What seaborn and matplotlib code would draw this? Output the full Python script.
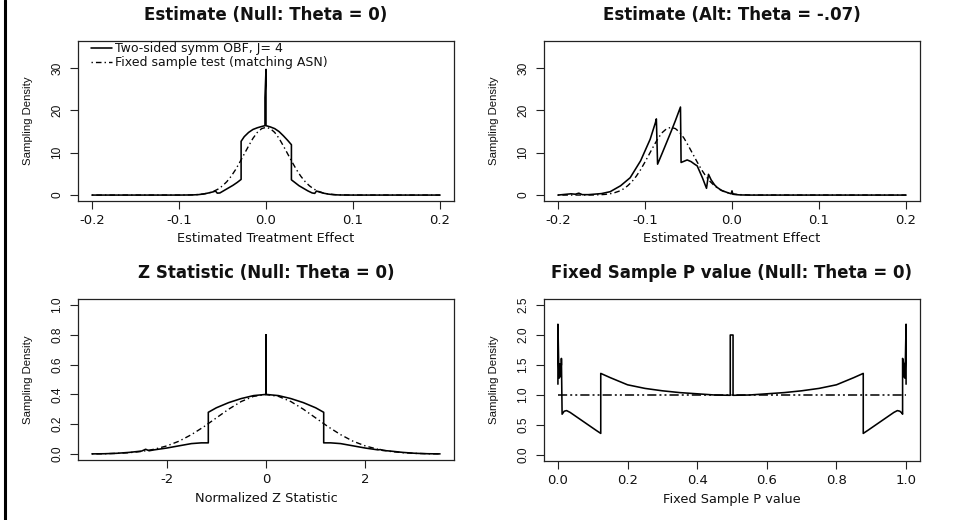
import matplotlib
matplotlib.use("Agg")
import matplotlib.pyplot as plt
import seaborn as sns
from matplotlib.lines import Line2D
from matplotlib import font_manager

# ---------------- data ----------------
# Panel 1: Estimate under the null (theta = 0)
est_null_x = [-0.200, -0.150, -0.100, -0.085, -0.078, -0.072, -0.066, -0.061, -0.058, -0.056,
              -0.053, -0.048, -0.043, -0.038, -0.033, -0.0286, -0.0286, -0.025, -0.020, -0.015,
              -0.010, -0.005, -0.0012, -0.0012, 0.0, 0.0, 0.005, 0.010, 0.015, 0.020, 0.025,
              0.0292, 0.0292, 0.033, 0.038, 0.043, 0.048, 0.053, 0.056, 0.058, 0.061, 0.066,
              0.072, 0.078, 0.085, 0.100, 0.150, 0.200]
est_null_y = [0.0, 0.0, 0.0, 0.03, 0.10, 0.25, 0.50, 0.75, 0.95, 0.45,
              0.50, 1.10, 1.70, 2.30, 3.00, 3.70, 12.7, 13.8, 14.8, 15.5,
              15.9, 16.2, 16.4, 23.0, 29.7, 16.4, 16.1, 15.7, 15.0, 14.0, 12.9,
              11.9, 3.6, 3.0, 2.2, 1.6, 1.0, 0.5, 0.4, 0.95, 0.75, 0.45,
              0.22, 0.08, 0.02, 0.0, 0.0, 0.0]
fix_null_x = [-0.200, -0.100, -0.090, -0.080, -0.075, -0.070, -0.065, -0.060, -0.055, -0.050,
              -0.045, -0.040, -0.035, -0.030, -0.025, -0.020, -0.015, -0.010, -0.005, 0.000,
              0.005, 0.010, 0.015, 0.020, 0.025, 0.030, 0.035, 0.040, 0.045, 0.050,
              0.055, 0.060, 0.065, 0.070, 0.075, 0.080, 0.090, 0.100, 0.200]
fix_null_y = [0.0, 0.01, 0.02, 0.10, 0.18, 0.32, 0.55, 0.90, 1.42, 2.17,
              3.17, 4.45, 6.0, 7.8, 9.7, 11.6, 13.4, 14.8, 15.7, 16.0,
              15.7, 14.8, 13.4, 11.6, 9.7, 7.8, 6.0, 4.45, 3.17, 2.17,
              1.42, 0.90, 0.55, 0.32, 0.18, 0.10, 0.02, 0.01, 0.0]

# Panel 2: Estimate under the alternative (theta = -.07)
est_alt_x = [-0.200, -0.185, -0.180, -0.176, -0.172, -0.165, -0.150, -0.140, -0.128, -0.117,
             -0.105, -0.094, -0.088, -0.0869, -0.0855, -0.080, -0.075, -0.070, -0.065, -0.0592,
             -0.0585, -0.055, -0.0515, -0.047, -0.043, -0.040, -0.037, -0.034, -0.031, -0.0293,
             -0.027, -0.024, -0.020, -0.017, -0.012, -0.0054, -0.001, 0.0, 0.001, 0.005,
             0.010, 0.020, 0.050, 0.100, 0.150, 0.200]
est_alt_y = [0.0, 0.3, 0.2, 0.45, 0.1, 0.1, 0.35, 0.8, 2.2, 4.1,
             8.1, 13.2, 17.1, 18.0, 7.3, 10.0, 12.5, 15.0, 17.6, 20.8,
             7.7, 8.0, 8.3, 7.9, 7.3, 6.9, 5.5, 4.1, 2.5, 1.6,
             4.9, 3.6, 2.4, 1.8, 1.1, 0.6, 0.3, 1.0, 0.2, 0.1,
             0.03, 0.0, 0.0, 0.0, 0.0, 0.0]
fix_alt_x = [-0.200, -0.170, -0.160, -0.150, -0.145, -0.140, -0.135, -0.130, -0.125, -0.120,
             -0.115, -0.110, -0.105, -0.100, -0.095, -0.090, -0.085, -0.080, -0.075, -0.070,
             -0.065, -0.060, -0.055, -0.050, -0.045, -0.040, -0.035, -0.030, -0.025, -0.020,
             -0.015, -0.010, -0.005, 0.000, 0.005, 0.010, 0.020, 0.030, 0.200]
fix_alt_y = [0.0, 0.01, 0.02, 0.10, 0.18, 0.32, 0.55, 0.90, 1.42, 2.17,
             3.17, 4.45, 6.0, 7.8, 9.7, 11.6, 13.4, 14.8, 15.7, 16.0,
             15.7, 14.8, 13.4, 11.6, 9.7, 7.8, 6.0, 4.45, 3.17, 2.17,
             1.42, 0.90, 0.55, 0.32, 0.18, 0.10, 0.02, 0.01, 0.0]

# Panel 3: Normalized Z statistic under the null
z_null_x = [-3.50, -3.25, -3.00, -2.75, -2.50, -2.42, -2.35, -2.25, -2.00, -1.75,
            -1.50, -1.30, -1.16, -1.16, -1.00, -0.75, -0.50, -0.25, 0.0, 0.0,
            0.0, 0.25, 0.50, 0.75, 1.00, 1.16, 1.16, 1.30, 1.50, 1.75,
            2.00, 2.25, 2.30, 2.35, 2.50, 2.75, 3.00, 3.25, 3.50]
z_null_y = [0.001, 0.002, 0.005, 0.011, 0.020, 0.032, 0.022, 0.028, 0.040, 0.055,
            0.070, 0.075, 0.075, 0.280, 0.310, 0.345, 0.372, 0.392, 0.400, 0.800,
            0.400, 0.392, 0.372, 0.345, 0.310, 0.280, 0.075, 0.075, 0.070, 0.055,
            0.040, 0.028, 0.030, 0.024, 0.020, 0.011, 0.005, 0.002, 0.001]
z_fix_x = [-3.50, -3.25, -3.00, -2.75, -2.50, -2.25, -2.00, -1.75, -1.50, -1.25,
           -1.00, -0.75, -0.50, -0.25, 0.00, 0.25, 0.50, 0.75, 1.00, 1.25,
           1.50, 1.75, 2.00, 2.25, 2.50, 2.75, 3.00, 3.25, 3.50]
z_fix_y = [0.0009, 0.002, 0.0044, 0.0091, 0.0175, 0.032, 0.054, 0.086, 0.130, 0.183,
           0.242, 0.301, 0.352, 0.387, 0.399, 0.387, 0.352, 0.301, 0.242, 0.183,
           0.130, 0.086, 0.054, 0.032, 0.0175, 0.0091, 0.0044, 0.002, 0.0009]

# Panel 4: Fixed sample P value under the null
p_null_x = [0.000, 0.000, 0.003, 0.003, 0.006, 0.006, 0.010, 0.010, 0.012, 0.018,
            0.025, 0.035, 0.050, 0.070, 0.090, 0.110, 0.123, 0.123, 0.150, 0.200,
            0.250, 0.300, 0.350, 0.400, 0.450, 0.495, 0.495, 0.503, 0.503, 0.550,
            0.600, 0.650, 0.700, 0.750, 0.800, 0.850, 0.877, 0.877, 0.890, 0.910,
            0.930, 0.950, 0.965, 0.975, 0.982, 0.988, 0.990, 0.990, 0.994, 0.994,
            0.997, 0.997, 1.000, 1.000]
p_null_y = [1.18, 2.18, 1.28, 1.50, 1.30, 1.52, 1.50, 1.61, 0.68, 0.73,
            0.74, 0.71, 0.65, 0.57, 0.49, 0.41, 0.36, 1.36, 1.29, 1.17,
            1.11, 1.07, 1.04, 1.02, 1.00, 0.995, 2.00, 2.00, 0.995, 1.00,
            1.02, 1.04, 1.07, 1.11, 1.17, 1.29, 1.36, 0.36, 0.41, 0.49,
            0.57, 0.65, 0.71, 0.74, 0.73, 0.70, 0.68, 1.61, 1.50, 1.30,
            1.52, 1.28, 2.18, 1.18]
p_fix_x = [0.0, 1.0]
p_fix_y = [1.0, 1.0]

# titles / labels / ticks
titles = ["Estimate (Null: Theta = 0)", "Estimate (Alt: Theta = -.07)",
          "Z Statistic (Null: Theta = 0)", "Fixed Sample P value (Null: Theta = 0)"]
xlabels = ["Estimated Treatment Effect", "Estimated Treatment Effect",
           "Normalized Z Statistic", "Fixed Sample P value"]
ylabel = "Sampling Density"
legend_labels = ["Two-sided symm OBF, J= 4", "Fixed sample test (matching ASN)"]
est_xticks = [-0.2, -0.1, 0.0, 0.1, 0.2]
est_xticklabels = ["-0.2", "-0.1", "0.0", "0.1", "0.2"]
est_yticks = [0, 10, 20, 30]
est_yticklabels = ["0", "10", "20", "30"]
z_xticks = [-2, 0, 2]
z_xticklabels = ["-2", "0", "2"]
z_yticks = [0.0, 0.2, 0.4, 0.6, 0.8, 1.0]
z_yticklabels = ["0.0", "0.2", "0.4", "0.6", "0.8", "1.0"]
p_xticks = [0.0, 0.2, 0.4, 0.6, 0.8, 1.0]
p_xticklabels = ["0.0", "0.2", "0.4", "0.6", "0.8", "1.0"]
p_yticks = [0.0, 0.5, 1.0, 1.5, 2.0, 2.5]
p_yticklabels = ["0.0", "0.5", "1.0", "1.5", "2.0", "2.5"]

# ---------------- styling ----------------
sns.set_style("ticks")
plt.rcParams["font.family"] = ["DejaVu Sans"]
plt.rcParams["axes.unicode_minus"] = False

names = {f.name for f in font_manager.fontManager.ttflist}
if "Liberation Sans Narrow" in names:
    NARROW, YT_FS, YL_FS = "Liberation Sans Narrow", 9.2, 9.6
else:
    NARROW, YT_FS, YL_FS = "Liberation Sans", 8.6, 8.2
TXT = "#111111"
W, H = 954, 520

fig = plt.figure(figsize=(W / 100, H / 100), dpi=100)
fig.patch.set_facecolor("white")

def rect(l, t, r, b):
    return [l / W, (H - b) / H, (r - l) / W, (b - t) / H]

axs = [fig.add_axes(rect(78, 41, 454, 201)),
       fig.add_axes(rect(544, 41, 920, 201)),
       fig.add_axes(rect(78, 299, 454, 460)),
       fig.add_axes(rect(544, 299, 920, 461))]

SOLID = dict(color="black", linewidth=1.15)
DASH = dict(color="black", linewidth=1.0, linestyle=(0, (1, 2.2, 4, 2.2)))
DASH2 = dict(color="black", linewidth=1.1, linestyle=(0, (6, 2, 1.3, 2, 1.3, 2)))

series = [
    (est_null_x, est_null_y, fix_null_x, fix_null_y, DASH),
    (est_alt_x, est_alt_y, fix_alt_x, fix_alt_y, DASH),
    (z_null_x, z_null_y, z_fix_x, z_fix_y, DASH),
    (p_null_x, p_null_y, p_fix_x, p_fix_y, DASH2),
]
for ax, (sx, sy, fx, fy, dstyle) in zip(axs, series):
    sns.lineplot(x=fx, y=fy, ax=ax, estimator=None, sort=False,
                 label=legend_labels[1], **dstyle)
    sns.lineplot(x=sx, y=sy, ax=ax, estimator=None, sort=False,
                 label=legend_labels[0], **SOLID)

cfg = [
    ((-0.216, 0.216), (-1.4, 36.4), est_xticks, est_xticklabels, est_yticks, est_yticklabels),
    ((-0.216, 0.216), (-1.4, 36.4), est_xticks, est_xticklabels, est_yticks, est_yticklabels),
    ((-3.78, 3.78), (-0.04, 1.04), z_xticks, z_xticklabels, z_yticks, z_yticklabels),
    ((-0.04, 1.04), (-0.1, 2.6), p_xticks, p_xticklabels, p_yticks, p_yticklabels),
]
for i, (ax, (xl, yl, xt, xtl, yt, ytl)) in enumerate(zip(axs, cfg)):
    ax.set_xlim(*xl)
    ax.set_ylim(*yl)
    ax.set_xticks(xt)
    ax.set_xticklabels(xtl, fontsize=9.5, color=TXT)
    ax.set_yticks(yt)
    ax.set_yticklabels(ytl, fontsize=YT_FS, color=TXT, family=NARROW,
                       rotation=90, va="center")
    ax.tick_params(axis="both", direction="out", length=5.5, width=0.8, colors="#222222",
                   labelcolor=TXT)
    ax.tick_params(axis="x", pad=4)
    ax.tick_params(axis="y", pad=5)
    for s in ax.spines.values():
        s.set_visible(True)
        s.set_linewidth(0.9)
        s.set_color("#222222")
    ax.set_facecolor("white")
    ax.grid(False)
    ax.set_title(titles[i], fontsize=12, fontweight="bold", color=TXT, pad=15.3)
    ax.set_xlabel(xlabels[i], fontsize=9.3, color=TXT)
    ax.set_ylabel(ylabel, fontsize=YL_FS, color=TXT, family=NARROW)
    hpx = ax.get_position().height * H
    ax.xaxis.set_label_coords(0.5, -38 / hpx)
    ax.xaxis.label.set_va("center")
    ax.yaxis.set_label_coords(-50 / 376, 0.5)
    ax.yaxis.label.set_va("center")
    if ax.get_legend() is not None:
        ax.get_legend().remove()

# legend only in first panel (solid first, then dash-dot)
h, l = axs[0].get_legend_handles_labels()
order = [l.index(legend_labels[0]), l.index(legend_labels[1])]
leg = axs[0].legend([h[k] for k in order], [l[k] for k in order],
                    loc="upper left", bbox_to_anchor=(13 / 376, 1.0 - 1.5 / 160),
                    frameon=False, fontsize=9, handlelength=1.7, handletextpad=0.25,
                    labelspacing=0.08, borderpad=0, borderaxespad=0)
for t in leg.get_texts():
    t.set_color(TXT)

# black border line on the left edge
fig.add_artist(Line2D([5 / W, 5 / W], [0, 1], transform=fig.transFigure,
                      color="black", linewidth=2.2))

fig.savefig("out.png", dpi=100, facecolor="white")
